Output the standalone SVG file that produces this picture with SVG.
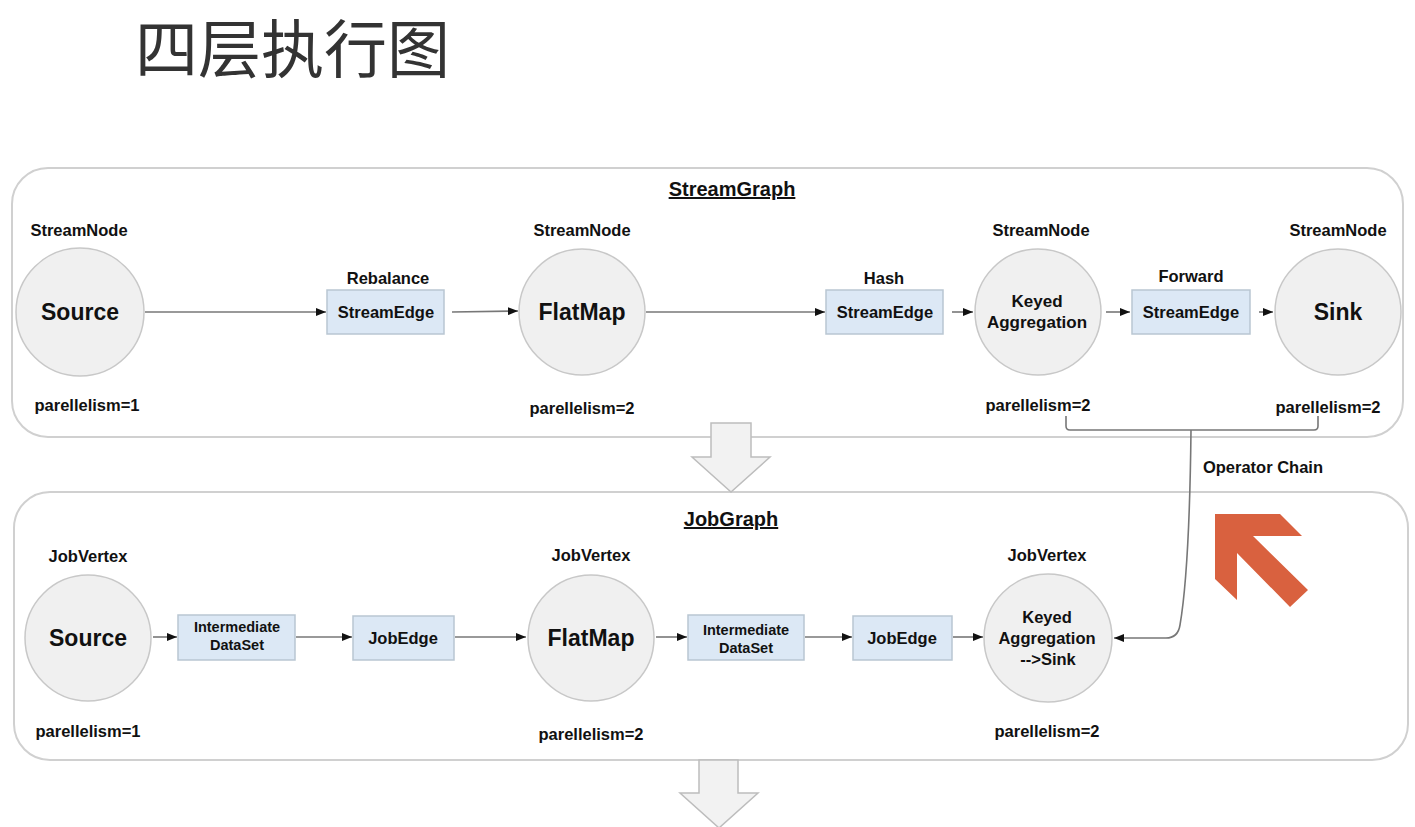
<svg xmlns="http://www.w3.org/2000/svg" width="1415" height="827" viewBox="0 0 1415 827">
<defs>
<marker id="ah" markerWidth="10" markerHeight="8" refX="10" refY="4" orient="auto" markerUnits="userSpaceOnUse">
<path d="M0,0 L10,4 L0,8 Z" fill="#111"/>
</marker>
<style>
.panel{fill:#fff;stroke:#d0d0d0;stroke-width:2}
.node{fill:#f0f0f0;stroke:#c8c8c8;stroke-width:1.5}
.edge{fill:#dce8f5;stroke:#b9c6d2;stroke-width:1.5}
.t{font-family:"Liberation Sans",Arial,sans-serif;font-weight:bold;fill:#111;text-anchor:middle}
.s{font-size:16.5px}
.big{font-size:23px}
.mid{font-size:17px}
.sm{font-size:14.5px}
.ttl{font-size:20px;text-decoration:underline}
.conn{fill:none;stroke:#777;stroke-width:1.6}
.bigarrow{fill:#f2f2f2;stroke:#bdbdbd;stroke-width:1.5}
</style>
</defs>
<rect width="1415" height="827" fill="#fff"/>
<text x="135" y="72" font-family="'Noto Sans CJK SC',sans-serif" font-size="63" fill="#333">四层执行图</text>

<g id="streamgraph">
<rect class="panel" x="12" y="168" width="1391" height="269" rx="36"/>
<text class="t ttl" x="732" y="196">StreamGraph</text>
</g>
<g id="jobgraph">
<rect class="panel" x="14" y="492" width="1394" height="268" rx="36"/>
<text class="t ttl" x="731" y="526">JobGraph</text>
</g>

<g id="arrow-down-1"><path class="bigarrow" d="M711,423 L751,423 L751,457 L770,457 L731,492 L692,457 L711,457 Z"/></g>
<g id="arrow-down-2"><path class="bigarrow" d="M699,760 L738,760 L738,793 L758,793 L719,828 L680,793 L699,793 Z"/></g>

<g id="connectors">
<line class="conn" x1="145" y1="312" x2="326" y2="312" marker-end="url(#ah)"/>
<line class="conn" x1="452" y1="312" x2="518" y2="311" marker-end="url(#ah)"/>
<line class="conn" x1="646" y1="312" x2="825" y2="312" marker-end="url(#ah)"/>
<line class="conn" x1="952" y1="312" x2="973" y2="312" marker-end="url(#ah)"/>
<line class="conn" x1="1106" y1="312" x2="1130" y2="312" marker-end="url(#ah)"/>
<line class="conn" x1="1259" y1="312" x2="1273" y2="312" marker-end="url(#ah)"/>
<line class="conn" x1="153" y1="637" x2="177" y2="637" marker-end="url(#ah)"/>
<line class="conn" x1="296" y1="637" x2="352" y2="637" marker-end="url(#ah)"/>
<line class="conn" x1="455" y1="637" x2="526" y2="637" marker-end="url(#ah)"/>
<line class="conn" x1="656" y1="637" x2="687" y2="637" marker-end="url(#ah)"/>
<line class="conn" x1="805" y1="637" x2="852" y2="637" marker-end="url(#ah)"/>
<line class="conn" x1="953" y1="637" x2="983" y2="637" marker-end="url(#ah)"/>
<path class="conn" d="M1066,416 L1066,426 Q1066,430 1070,430 L1314,430 Q1318,430 1318,426 L1318,416"/>
<path class="conn" d="M1191,430 C1190,520 1186,590 1180,625 Q1178,638 1166,638 L1114,638" marker-end="url(#ah)"/>
</g>

<g id="sg-source">
<text class="t s" x="79" y="236">StreamNode</text>
<circle class="node" cx="80" cy="312" r="64"/>
<text class="t big" x="80" y="320">Source</text>
<text class="t s" x="87" y="411">parellelism=1</text>
</g>
<g id="sg-rebalance">
<text class="t s" x="388" y="284">Rebalance</text>
<rect class="edge" x="327" y="290" width="117" height="44"/>
<text class="t s" x="386" y="318">StreamEdge</text>
</g>
<g id="sg-flatmap">
<text class="t s" x="582" y="236">StreamNode</text>
<circle class="node" cx="582" cy="312" r="63"/>
<text class="t big" x="582" y="320">FlatMap</text>
<text class="t s" x="582" y="414">parellelism=2</text>
</g>
<g id="sg-hash">
<text class="t s" x="884" y="284">Hash</text>
<rect class="edge" x="826" y="290" width="117" height="44"/>
<text class="t s" x="885" y="318">StreamEdge</text>
</g>
<g id="sg-keyed">
<text class="t s" x="1041" y="236">StreamNode</text>
<circle class="node" cx="1038" cy="312" r="63"/>
<text class="t mid" x="1037" y="307">Keyed</text>
<text class="t mid" x="1037" y="328">Aggregation</text>
<text class="t s" x="1038" y="411">parellelism=2</text>
</g>
<g id="sg-forward">
<text class="t s" x="1191" y="282">Forward</text>
<rect class="edge" x="1132" y="290" width="118" height="44"/>
<text class="t s" x="1191" y="318">StreamEdge</text>
</g>
<g id="sg-sink">
<text class="t s" x="1338" y="236">StreamNode</text>
<circle class="node" cx="1338" cy="312" r="63"/>
<text class="t big" x="1338" y="320">Sink</text>
<text class="t s" x="1328" y="413">parellelism=2</text>
</g>
<g id="operator-chain">
<text class="t s" x="1263" y="473">Operator Chain</text>
</g>

<g id="jg-source">
<text class="t s" x="88" y="562">JobVertex</text>
<circle class="node" cx="88" cy="638" r="63"/>
<text class="t big" x="88" y="646">Source</text>
<text class="t s" x="88" y="737">parellelism=1</text>
</g>
<g id="jg-ids1">
<rect class="edge" x="178" y="615" width="117" height="45"/>
<text class="t sm" x="237" y="632">Intermediate</text>
<text class="t sm" x="237" y="650">DataSet</text>
</g>
<g id="jg-jobedge1">
<rect class="edge" x="353" y="616" width="101" height="44"/>
<text class="t s" x="403" y="644">JobEdge</text>
</g>
<g id="jg-flatmap">
<text class="t s" x="591" y="561">JobVertex</text>
<circle class="node" cx="591" cy="638" r="63"/>
<text class="t big" x="591" y="646">FlatMap</text>
<text class="t s" x="591" y="740">parellelism=2</text>
</g>
<g id="jg-ids2">
<rect class="edge" x="688" y="615" width="116" height="45"/>
<text class="t sm" x="746" y="635">Intermediate</text>
<text class="t sm" x="746" y="653">DataSet</text>
</g>
<g id="jg-jobedge2">
<rect class="edge" x="853" y="616" width="99" height="44"/>
<text class="t s" x="902" y="644">JobEdge</text>
</g>
<g id="jg-keyed">
<text class="t s" x="1047" y="561">JobVertex</text>
<circle class="node" cx="1048" cy="638" r="64"/>
<text class="t s" x="1047" y="623">Keyed</text>
<text class="t s" x="1047" y="644">Aggregation</text>
<text class="t s" x="1048" y="665">--&gt;Sink</text>
<text class="t s" x="1047" y="737">parellelism=2</text>
</g>

<g id="orange-arrow">
<polygon fill="#d9613f" points="1215,514 1280,514 1302,536 1253,536 1308,590 1290,607 1237,553 1237,600 1215,579"/>
</g>
</svg>
